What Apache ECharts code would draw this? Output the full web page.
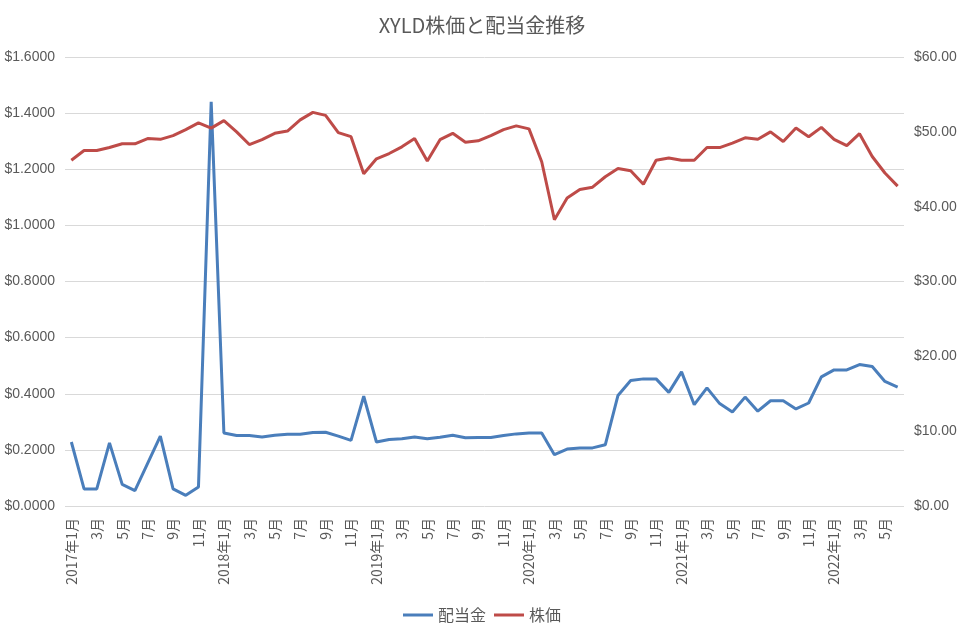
<!DOCTYPE html>
<html>
<head>
<meta charset="utf-8">
<script src="https://cdn.jsdelivr.net/npm/echarts@6/dist/echarts.min.js"></script>
<style>html,body{margin:0;padding:0;background:#fff}#c{width:964px;height:631px}</style>
</head>
<body>
<div id="c"></div>
<script>
const startYear = 2017;
const monthCount = 66;
const categories = [];
for (let i = 0; i < monthCount; i++) {
  const y = startYear + Math.floor(i / 12), m = (i % 12) + 1;
  categories.push(m === 1 ? y + '年1月' : m + '月');
}
const dividend = [
  0.228, 0.061, 0.061, 0.225, 0.077, 0.055, 0.152, 0.249, 0.061, 0.038, 0.068, 1.44,
  0.260, 0.251, 0.251, 0.246, 0.252, 0.256, 0.256, 0.262, 0.263, 0.249, 0.234, 0.391,
  0.228, 0.237, 0.240, 0.246, 0.240, 0.245, 0.252, 0.243, 0.244, 0.244, 0.251, 0.257,
  0.260, 0.260, 0.183, 0.203, 0.207, 0.207, 0.218, 0.394, 0.447, 0.453, 0.453, 0.405,
  0.478, 0.361, 0.421, 0.365, 0.335, 0.388, 0.338, 0.375, 0.375, 0.346, 0.367, 0.460,
  0.485, 0.485, 0.504, 0.497, 0.444, 0.424
];
const price = [
  46.2, 47.5, 47.5, 47.9, 48.4, 48.4, 49.1, 49.0, 49.5, 50.3, 51.2, 50.5,
  51.5, 50.0, 48.3, 48.95, 49.8, 50.1, 51.6, 52.6, 52.2, 49.9, 49.35, 44.4,
  46.4, 47.1, 48.0, 49.1, 46.1, 48.95, 49.8, 48.6, 48.8, 49.5, 50.3, 50.8,
  50.4, 46.0, 38.25, 41.15, 42.3, 42.6, 44.0, 45.1, 44.8, 43.0, 46.2, 46.5,
  46.2, 46.2, 47.9, 47.9, 48.5, 49.2, 49.0, 50.0, 48.7, 50.5, 49.35, 50.6,
  49.0, 48.15, 49.75, 46.7, 44.5, 42.75
];
const seriesNames = ['配当金', '株価'];
const titleText = 'XYLD株価と配当金推移';

const font = "'Noto Sans CJK JP', 'Noto Sans', sans-serif";
const numFont = "'Liberation Sans', sans-serif";
const txt = '#595959';
const chart = echarts.init(document.getElementById('c'));
chart.setOption({
  animation: false,
  textStyle: { fontFamily: font },
  title: { text: titleText, left: 'center', top: 10, textStyle: { fontSize: 20, fontWeight: 'normal', color: txt, fontFamily: font } },
  legend: {
    bottom: 3, left: 'center', itemWidth: 30, itemHeight: 3, itemGap: 8,
    icon: 'rect',
    textStyle: { fontSize: 16, color: txt, fontFamily: font },
    data: seriesNames
  },
  grid: { left: 65, right: 60, top: 57, bottom: 125 },
  xAxis: {
    type: 'category', data: categories, boundaryGap: true,
    axisLine: { show: false }, axisTick: { show: false },
    axisLabel: { interval: 1, rotate: 90, color: txt, fontSize: 14, margin: 12, fontFamily: font }
  },
  yAxis: [
    {
      type: 'value', min: 0, max: 1.6, interval: 0.2,
      axisLine: { show: false }, axisTick: { show: false },
      splitLine: { lineStyle: { color: '#d9d9d9', width: 1 } },
      axisLabel: { color: txt, fontSize: 14, margin: 10, formatter: v => '$' + v.toFixed(4), fontFamily: numFont }
    },
    {
      type: 'value', min: 0, max: 60, interval: 10,
      axisLine: { show: false }, axisTick: { show: false },
      splitLine: { show: false },
      axisLabel: { color: txt, fontSize: 14, margin: 10, formatter: v => '$' + v.toFixed(2), fontFamily: numFont }
    }
  ],
  series: [
    { name: seriesNames[0], type: 'line', data: dividend, yAxisIndex: 0, showSymbol: false, symbol: 'none',
      lineStyle: { color: '#4a7ebb', width: 3 }, itemStyle: { color: '#4a7ebb' } },
    { name: seriesNames[1], type: 'line', data: price, yAxisIndex: 1, showSymbol: false, symbol: 'none',
      lineStyle: { color: '#be4b48', width: 3 }, itemStyle: { color: '#be4b48' } }
  ]
});
</script>
</body>
</html>
